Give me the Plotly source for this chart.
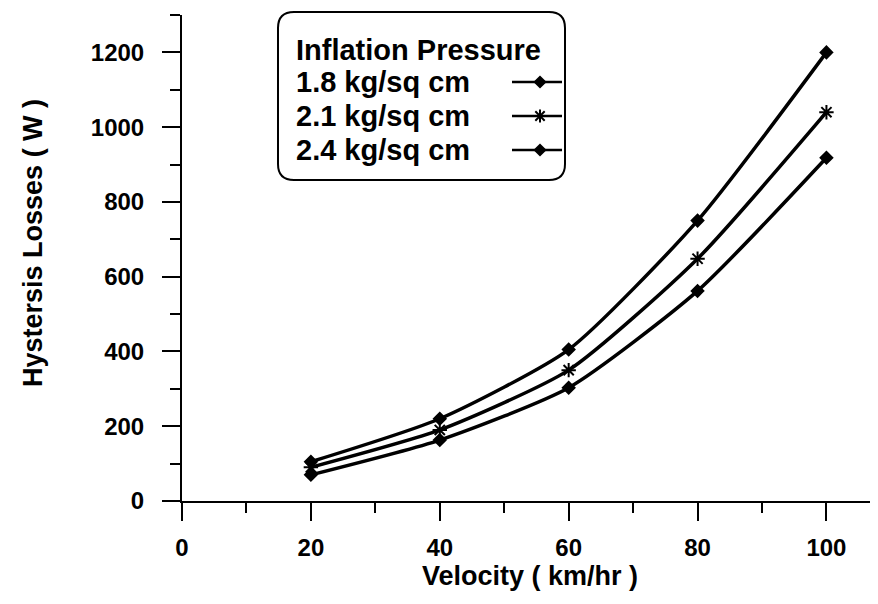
import plotly.graph_objects as go

velocity = [20, 40, 60, 80, 100]
loss_18 = [105, 220, 405, 750, 1200]
loss_21 = [90, 190, 350, 648, 1040]
loss_24 = [70, 163, 303, 562, 918]
series_names = ["1.8 kg/sq cm", "2.1 kg/sq cm", "2.4 kg/sq cm"]
legend_title = "Inflation Pressure"
x_title = "Velocity ( km/hr )"
y_title = "Hystersis Losses ( W )"

# page has an 8px body margin; figure sized so the plot lands where the reference has it
OFF = 8
W, H = 878 - OFF, 604 - OFF
L, R, T, B = 182 - OFF, 0, 15 - OFF, 103
pw, ph = W - L - R, H - T - B

FONT = "Liberation Sans, Arial, sans-serif"

# helpers take page-pixel positions and return plot fractions
def px_x(p):
    return (p - OFF - L) / pw

def px_y(p):
    return (H - B - (p - OFF)) / ph

symbols = ["diamond", "asterisk-open", "diamond"]
sizes = [9, 12, 9]
series = [loss_18, loss_21, loss_24]

fig = go.Figure()
for name, vals, sym, sz in zip(series_names, series, symbols, sizes):
    fig.add_trace(go.Scatter(
        x=velocity, y=vals, mode="lines+markers", name=name,
        line=dict(color="black", width=3.5, shape="spline", smoothing=0.6),
        marker=dict(symbol=sym, size=sz, color="black",
                    line=dict(color="black", width=2)),
        showlegend=False,
    ))

# custom legend samples on an overlay axis (plot-fraction units)
row_px = [82, 116, 150]
for name, sym, sz, ry in zip(series_names, symbols, sizes, row_px):
    yy = px_y(ry)
    fig.add_trace(go.Scatter(
        x=[px_x(512), px_x(540), px_x(562)], y=[yy, yy, yy],
        mode="lines", xaxis="x2", yaxis="y2", showlegend=False,
        line=dict(color="black", width=2.5), hoverinfo="skip",
    ))
    fig.add_trace(go.Scatter(
        x=[px_x(540)], y=[yy], mode="markers", xaxis="x2", yaxis="y2",
        showlegend=False, hoverinfo="skip",
        marker=dict(symbol=sym, size=sz - 1, color="black",
                    line=dict(color="black", width=2)),
    ))
    fig.add_annotation(
        x=px_x(294), y=yy, xref="paper", yref="paper", text=name,
        showarrow=False, xanchor="left", yanchor="middle",
        font=dict(family=FONT, size=29, color="black", weight="bold"),
    )

fig.add_annotation(
    x=px_x(294), y=px_y(50), xref="paper", yref="paper", text=legend_title,
    showarrow=False, xanchor="left", yanchor="middle",
    font=dict(family=FONT, size=29, color="black", weight="bold"),
)

# y-axis title placed as in the reference (slightly above the plot centre)
fig.add_annotation(
    x=px_x(33), y=px_y(243), xref="paper", yref="paper", text=y_title,
    showarrow=False, xanchor="center", yanchor="middle", textangle=-90,
    font=dict(family=FONT, size=27, color="black", weight="bold"),
)

# rounded legend box
x0, x1 = 278, 565
y0, y1 = 12, 180
r = 16
def P(x, y):
    return f"{px_x(x):.5f},{px_y(y):.5f}"
path = (f"M {P(x0 + r, y0)} L {P(x1 - r, y0)} Q {P(x1, y0)} {P(x1, y0 + r)} "
        f"L {P(x1, y1 - r)} Q {P(x1, y1)} {P(x1 - r, y1)} "
        f"L {P(x0 + r, y1)} Q {P(x0, y1)} {P(x0, y1 - r)} "
        f"L {P(x0, y0 + r)} Q {P(x0, y0)} {P(x0 + r, y0)} Z")
fig.add_shape(type="path", path=path, xref="paper", yref="paper",
              line=dict(color="black", width=2), layer="below")

fig.update_layout(
    width=W, height=H,
    margin=dict(l=L, r=R, t=T, b=B, autoexpand=False),
    paper_bgcolor="white", plot_bgcolor="white",
    font=dict(family=FONT, color="black"),
    xaxis=dict(
        range=[0, 108], tickvals=[0, 20, 40, 60, 80, 100],
        showline=True, linecolor="black", linewidth=2,
        ticks="outside", ticklen=18, tickwidth=2, tickcolor="black",
        minor=dict(tickvals=[10, 30, 50, 70, 90], ticks="outside",
                   ticklen=10, tickwidth=2, tickcolor="black"),
        showgrid=False, zeroline=False, automargin=False,
        tickfont=dict(size=24, family=FONT, weight="bold"),
        ticklabelstandoff=6,
        title=dict(text=x_title, standoff=4,
                   font=dict(size=27, family=FONT, weight="bold")),
    ),
    yaxis=dict(
        range=[0, 1300], tickvals=[0, 200, 400, 600, 800, 1000, 1200],
        showline=True, linecolor="black", linewidth=2,
        ticks="outside", ticklen=18, tickwidth=2, tickcolor="black",
        minor=dict(tickvals=[100, 300, 500, 700, 900, 1100, 1300],
                   ticks="outside", ticklen=10, tickwidth=2, tickcolor="black"),
        showgrid=False, zeroline=False, automargin=False,
        tickfont=dict(size=24, family=FONT, weight="bold"),
        ticklabelstandoff=13,
    ),
    xaxis2=dict(overlaying="x", range=[0, 1], visible=False, fixedrange=True),
    yaxis2=dict(overlaying="y", range=[0, 1], visible=False, fixedrange=True),
)

fig.write_html("out.html")
